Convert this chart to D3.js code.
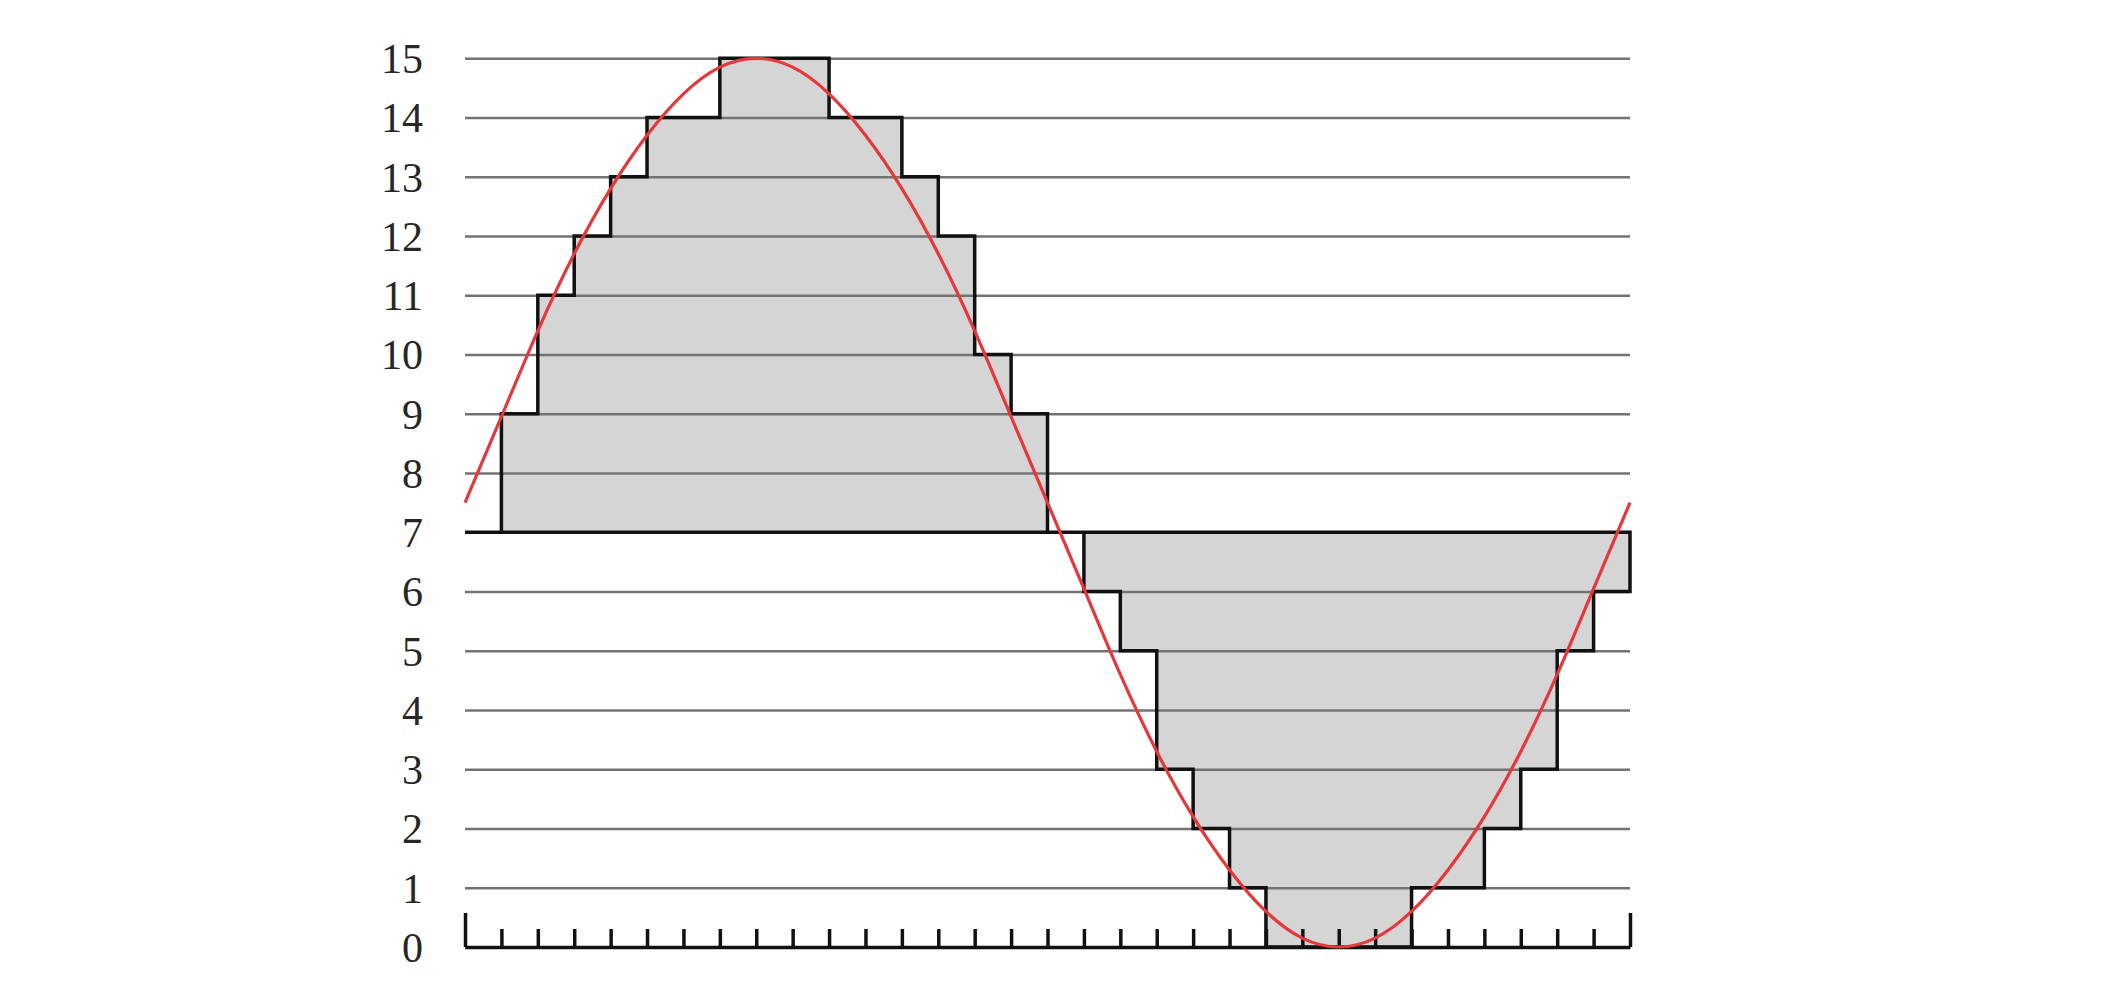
<!DOCTYPE html>
<meta charset="utf-8">
<title>Sampled sine</title>
<script src="https://d3js.org/d3.v7.min.js"></script>
<style>
  body { margin: 0; background: #fff; }
  .ylab text { font: 42px "Liberation Serif", "DejaVu Serif", serif; fill: #262626; }
</style>
<body>
<div id="chart"></div>
<script>

// step levels, one per sample interval (32 intervals)
var levels = [7, 9, 11, 12, 13, 14, 14, 15, 15, 15, 14, 14, 13, 12, 10, 9,
              7, 6, 5, 3, 2, 1, 0, 0, 0, 0, 1, 1, 2, 3, 5, 6];

// red analogue curve, read at every sample position 0..32
var curveVals = [7.5, 8.95, 10.4, 11.7, 12.8, 13.7, 14.4, 14.85, 15, 14.85, 14.4, 13.7, 12.8, 11.7, 10.4, 8.95,
                 7.5, 6.05, 4.6, 3.3, 2.2, 1.3, 0.6, 0.15, 0, 0.15, 0.6, 1.3, 2.2, 3.3, 4.6, 6.05, 7.5];

var yTicks = d3.range(0, 16);   // 0 .. 15
var baseLevel = 7;

var W = 2112, H = 988;
var x = d3.scaleLinear().domain([0, 32]).range([465, 1630]);
var y = d3.scaleLinear().domain([0, 15]).range([947, 58.3]);

var svg = d3.select("#chart").append("svg")
    .attr("width", W)
    .attr("height", H);

var stepPts = levels.map(function(v, i) { return [i, v]; });
stepPts.push([levels.length, levels[levels.length - 1]]);

var area = d3.area()
    .x(function(d) { return x(d[0]); })
    .y0(y(baseLevel))
    .y1(function(d) { return y(d[1]); })
    .curve(d3.curveStepAfter);

// gray fill
svg.append("path")
    .datum(stepPts)
    .attr("d", area)
    .attr("fill", "#d5d5d5")
    .attr("stroke", "none");

// horizontal grid + labels
var yAxis = svg.append("g")
    .attr("class", "ylab")
    .attr("transform", "translate(" + x(0) + ",0)")
    .call(d3.axisLeft(y).tickValues(yTicks)
      .tickSize(-(x(32) - x(0)))
      .tickPadding(42)
      .tickFormat(d3.format("d")));
yAxis.select(".domain").remove();
yAxis.selectAll(".tick line")
    .attr("stroke", "#737373")
    .attr("stroke-width", 2.5);
yAxis.selectAll(".tick text")
    .attr("dy", "0.34em");

// black step outline (incl. the level-7 base line)
svg.append("path")
    .datum(stepPts)
    .attr("d", area)
    .attr("fill", "none")
    .attr("stroke", "#111")
    .attr("stroke-width", 3.5);

// bottom axis with upward ticks
var xAxis = svg.append("g")
    .attr("transform", "translate(0," + y(0) + ")")
    .call(d3.axisTop(x).ticks(32).tickSizeInner(18).tickSizeOuter(0).tickFormat(""));
xAxis.select(".domain")
    .attr("stroke", "#111")
    .attr("stroke-width", 3.5);
xAxis.selectAll(".tick line")
    .attr("stroke", "#111")
    .attr("stroke-width", 3.5)
    .filter(function(d) { return d === 0 || d === 32; })
    .attr("y2", -34);

// red analogue signal
var line = d3.line()
    .x(function(d, i) { return x(i); })
    .y(function(d) { return y(d); })
    .curve(d3.curveNatural);

svg.append("path")
    .datum(curveVals)
    .attr("d", line)
    .attr("fill", "none")
    .attr("stroke", "#e5383b")
    .attr("stroke-width", 3.2);

</script>
</body>
